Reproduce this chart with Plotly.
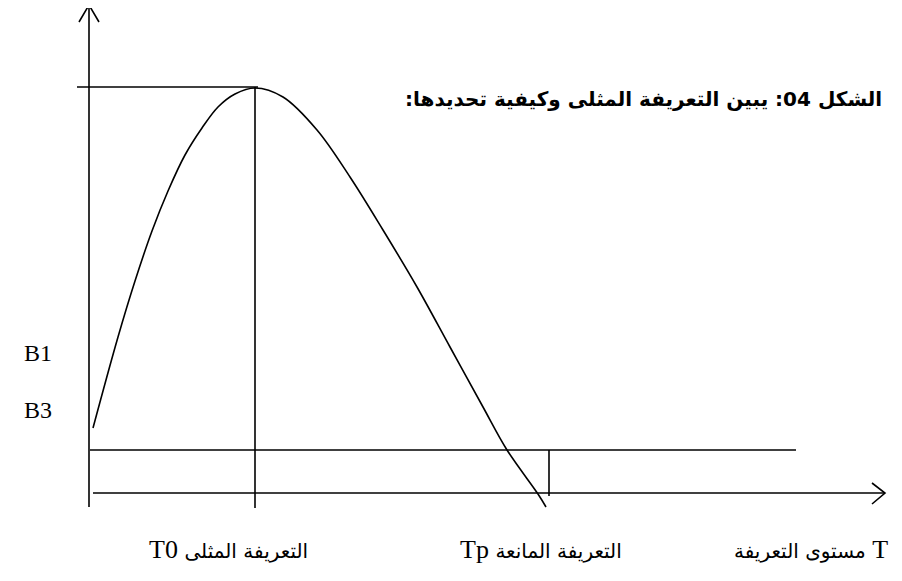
import plotly.graph_objects as go

# ---- data (diagram units) ----
curve_x = [93, 118, 135, 152, 168, 185, 202, 218, 235, 255, 283, 317, 350, 383, 417, 450, 483, 507, 538, 546]
curve_y = [428, 337, 281, 231, 191, 155, 128, 107, 94, 88, 97, 130, 177, 230, 287, 347, 407, 450, 494, 507]

yaxis_x = [89, 89]
yaxis_y = [507, 5]
yarrow_x = [79, 89, 99]
yarrow_y = [22, 5, 22]

xaxis_x = [93, 885]
xaxis_y = [493, 493]
xarrow_x = [872, 885, 872]
xarrow_y = [483, 493, 504]

peak_h_x = [77, 258]
peak_h_y = [87, 87]
t0_v_x = [255, 255]
t0_v_y = [87, 508]

b_line_x = [90, 796]
b_line_y = [450, 450]
tp_v_x = [549, 549]
tp_v_y = [450, 496]

title_text = "\u202Bالشكل 04: يبين التعريفة المثلى وكيفية تحديدها:\u202C"
left_labels = ["B1", "B3"]
left_label_y = [353, 410]
bottom_latin = ["T0", "Tp", "T"]
bottom_arabic = ["التعريفة المثلى", "التعريفة المانعة", "مستوى التعريفة"]
bottom_latin_first = [True, True, False]
bottom_label_x = [147, 458, 890]
bottom_label_anchor = ["left", "left", "right"]

fig = go.Figure()
line_style = dict(color="black", width=1.6)
for xs, ys in [(yaxis_x, yaxis_y), (yarrow_x, yarrow_y), (xaxis_x, xaxis_y), (xarrow_x, xarrow_y),
               (peak_h_x, peak_h_y), (t0_v_x, t0_v_y), (b_line_x, b_line_y), (tp_v_x, tp_v_y)]:
    fig.add_trace(go.Scatter(x=xs, y=ys, mode="lines", line=line_style, hoverinfo="skip", showlegend=False))

fig.add_trace(go.Scatter(x=curve_x, y=curve_y, mode="lines",
                         line=dict(color="black", width=1.6, shape="spline", smoothing=1.0),
                         hoverinfo="skip", showlegend=False))

fig.add_annotation(x=884, y=99, text="<b>" + title_text + "</b>", showarrow=False,
                   xanchor="right", yanchor="middle",
                   font=dict(family="DejaVu Sans", size=20, color="black", weight="bold"))

for t, yy in zip(left_labels, left_label_y):
    fig.add_annotation(x=22, y=yy, text=t, showarrow=False, xanchor="left", yanchor="middle",
                       font=dict(family="Liberation Serif, DejaVu Serif", size=24, color="black"))

arabic_span = '<span style="font-family:\'DejaVu Sans\';font-size:20px">{}</span>'
for lat, ar, first, xx, anc in zip(bottom_latin, bottom_arabic, bottom_latin_first,
                                   bottom_label_x, bottom_label_anchor):
    txt = (lat + " " + arabic_span.format(ar)) if first else (arabic_span.format(ar) + " " + lat)
    fig.add_annotation(x=xx, y=549, text=txt, showarrow=False, xanchor=anc, yanchor="middle",
                       font=dict(family="Liberation Serif, DejaVu Serif", size=26, color="black"))

# The page body has an 8px margin; shift the ranges so diagram units equal window pixels.
fig.update_layout(
    width=902, height=581,
    margin=dict(l=0, r=0, t=0, b=0),
    paper_bgcolor="white", plot_bgcolor="white",
    xaxis=dict(range=[8, 910], visible=False, fixedrange=True),
    yaxis=dict(range=[589, 8], visible=False, fixedrange=True),
)

fig.write_html("out.html")
